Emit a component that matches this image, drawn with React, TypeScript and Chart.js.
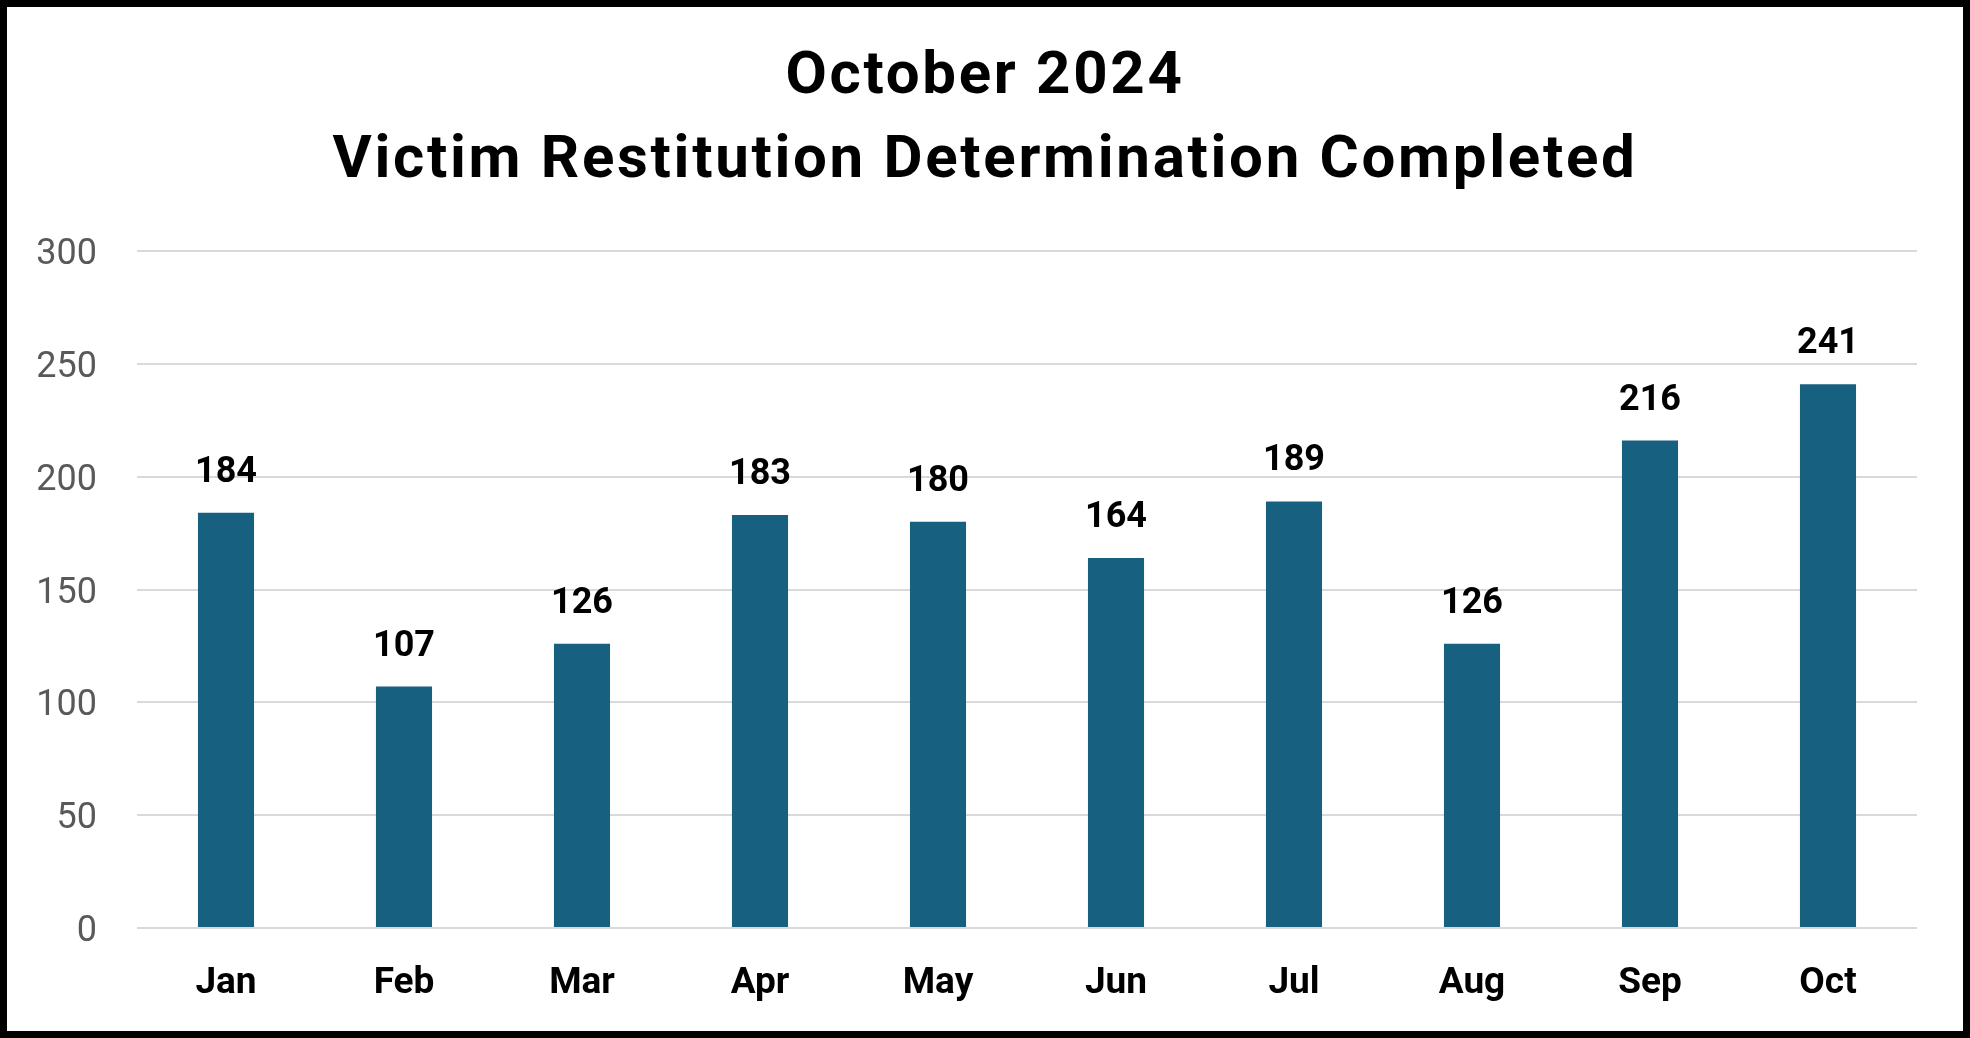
import React, { useEffect, useRef } from "react";
import { Chart, registerables } from "chart.js";

Chart.register(...registerables);

const titleLines = ["October 2024", "Victim Restitution Determination Completed"];
const months = ["Jan", "Feb", "Mar", "Apr", "May", "Jun", "Jul", "Aug", "Sep", "Oct"];
const completed = [184, 107, 126, 183, 180, 164, 189, 126, 216, 241];
const yTicks = [0, 50, 100, 150, 200, 250, 300];

const FONT = "Roboto, 'Liberation Sans', sans-serif";

const valueLabels = {
  id: "valueLabels",
  afterDatasetsDraw(chart: any) {
    const ctx = chart.ctx;
    const meta = chart.getDatasetMeta(0);
    ctx.save();
    ctx.font = `bold 36px ${FONT}`;
    ctx.fillStyle = "#000000";
    ctx.textAlign = "center";
    ctx.textBaseline = "alphabetic";
    meta.data.forEach((bar: any, i: number) => {
      ctx.fillText(String(completed[i]), bar.x, bar.y - 31);
    });
    ctx.restore();
  },
};

const spacedTitle = {
  id: "spacedTitle",
  afterDraw(chart: any) {
    const ctx = chart.ctx;
    ctx.save();
    ctx.font = `bold 60px ${FONT}`;
    ctx.fillStyle = "#000000";
    ctx.textAlign = "center";
    ctx.textBaseline = "alphabetic";
    try {
      (ctx as any).letterSpacing = "2.7px";
    } catch (e) {}
    const cx = chart.width / 2;
    ctx.fillText(titleLines[0], cx, 86);
    ctx.fillText(titleLines[1], cx, 170);
    ctx.restore();
  },
};

export default function App() {
  const ref = useRef<HTMLCanvasElement>(null);
  useEffect(() => {
    document.body.style.margin = "0";
    const chart = new Chart(ref.current!, {
      type: "bar",
      data: {
        labels: months,
        datasets: [
          {
            data: completed,
            backgroundColor: "#17607F",
            barPercentage: 0.315,
            categoryPercentage: 1,
          },
        ],
      },
      options: {
        animation: false,
        responsive: false,
        layout: { padding: { left: 0, right: 46, top: 244, bottom: 0 } },
        plugins: {
          legend: { display: false },
          tooltip: { enabled: false },
          title: { display: false },
        },
        scales: {
          x: {
            grid: { display: false },
            border: { display: false },
            ticks: {
              color: "#000000",
              font: { family: FONT, size: 37, weight: "bold", lineHeight: 1.2 },
              padding: 26,
            },
            afterFit(scale: any) {
              scale.height = 103;
            },
          },
          y: {
            min: 0,
            max: 300,
            afterBuildTicks(scale: any) {
              scale.ticks = yTicks.map((v) => ({ value: v }));
            },
            grid: { color: "#D9D9D9", lineWidth: 2, drawTicks: false },
            border: { display: false },
            ticks: {
              color: "#595959",
              font: { family: FONT, size: 36 },
              padding: 40,
              labelOffset: 4,
            },
            afterFit(scale: any) {
              scale.width = 130;
            },
          },
        },
      },
      plugins: [valueLabels, spacedTitle],
    });
    return () => chart.destroy();
  }, []);

  return (
    <div
      style={{
        position: "absolute",
        left: 0,
        top: 0,
        width: 1970,
        height: 1038,
        boxSizing: "border-box",
        border: "7px solid #000000",
        background: "#ffffff",
      }}
    >
      <canvas ref={ref} width={1956} height={1024} style={{ display: "block" }} />
    </div>
  );
}
